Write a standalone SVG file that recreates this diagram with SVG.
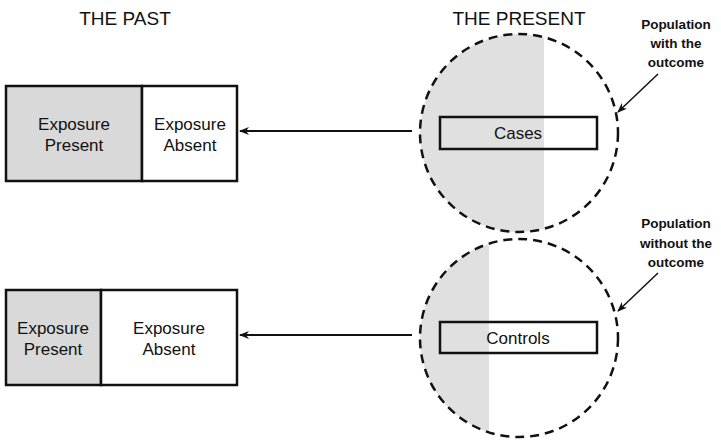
<svg xmlns="http://www.w3.org/2000/svg" width="721" height="442" viewBox="0 0 721 442">
<style>
text{font-family:"Liberation Sans",Arial,sans-serif;fill:#111;text-anchor:middle}
.h{font-size:19px}
.t{font-size:17px}
.b{font-size:13.5px;font-weight:bold}
.box{stroke:#111;stroke-width:2.5}
.circ{fill:none;stroke:#111;stroke-width:2.5;stroke-dasharray:9 6}
.conn{stroke:#111;stroke-width:2;fill:none}
.thin{stroke:#111;stroke-width:1.5;fill:none}
</style>
<defs>
<marker id="ah" markerWidth="10" markerHeight="8" refX="9" refY="4" orient="auto" markerUnits="userSpaceOnUse">
<path d="M0,0 L10,4 L0,8 L3,4 Z" fill="#111"/>
</marker>
<clipPath id="c1"><circle cx="519" cy="133" r="99"/></clipPath>
<clipPath id="c2"><circle cx="519" cy="338" r="99"/></clipPath>
</defs>
<rect width="721" height="442" fill="#fff"/>
<text class="h" x="125" y="25">THE PAST</text>
<text class="h" x="519" y="25">THE PRESENT</text>

<g id="past-top">
<rect class="box" x="6" y="86" width="136" height="95" fill="#d9d9d9"/>
<rect class="box" x="142" y="86" width="95" height="95" fill="#fff"/>
<text class="t" x="74" y="130">Exposure</text>
<text class="t" x="74" y="151">Present</text>
<text class="t" x="190" y="130">Exposure</text>
<text class="t" x="190" y="151">Absent</text>
</g>

<g id="past-bottom">
<rect class="box" x="6" y="290" width="95" height="95" fill="#d9d9d9"/>
<rect class="box" x="101" y="290" width="136" height="95" fill="#fff"/>
<text class="t" x="53" y="334">Exposure</text>
<text class="t" x="53" y="355">Present</text>
<text class="t" x="169" y="334">Exposure</text>
<text class="t" x="169" y="355">Absent</text>
</g>

<g id="cases-population">
<rect x="419" y="33" width="125" height="200" fill="#e0e0e0" clip-path="url(#c1)"/>
<circle class="circ" cx="519" cy="133" r="99"/>
<rect class="box" x="440" y="117" width="157" height="32" fill="none" stroke-width="2"/>
<text class="t" x="518" y="139">Cases</text>
</g>

<g id="controls-population">
<rect x="419" y="238" width="70" height="200" fill="#e0e0e0" clip-path="url(#c2)"/>
<circle class="circ" cx="519" cy="338" r="99"/>
<rect class="box" x="440" y="322" width="157" height="31" fill="none" stroke-width="2"/>
<text class="t" x="518" y="344">Controls</text>
</g>

<g id="label-with">
<text class="b" x="676" y="29">Population</text>
<text class="b" x="676" y="48">with the</text>
<text class="b" x="676" y="67">outcome</text>
</g>
<g id="label-without">
<text class="b" x="676" y="228">Population</text>
<text class="b" x="676" y="248">without the</text>
<text class="b" x="676" y="267">outcome</text>
</g>

<g id="connectors">
<line class="conn" x1="412" y1="131" x2="240" y2="131" marker-end="url(#ah)"/>
<line class="conn" x1="412" y1="335" x2="240" y2="335" marker-end="url(#ah)"/>
<line class="thin" x1="658" y1="74" x2="618" y2="112" marker-end="url(#ah)"/>
<line class="thin" x1="658" y1="273" x2="618" y2="311" marker-end="url(#ah)"/>
</g>
</svg>
